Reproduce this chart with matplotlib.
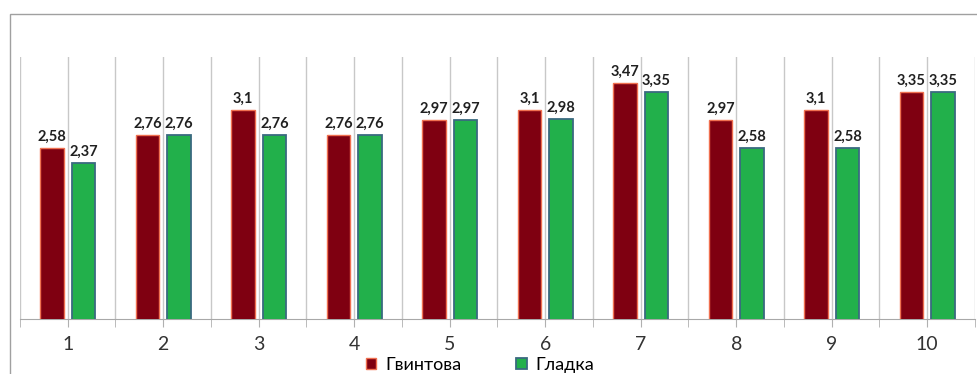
import numpy as np
import matplotlib
matplotlib.use("Agg")
import matplotlib.pyplot as plt
from matplotlib.patches import Rectangle

# Значення для двох типів поверхні
categories = ["1", "2", "3", "4", "5", "6", "7", "8", "9", "10"]
gvyntova = [2.58, 2.76, 3.1, 2.76, 2.97, 3.1, 3.47, 2.97, 3.1, 3.35]
gladka = [2.37, 2.76, 2.76, 2.76, 2.97, 2.98, 3.35, 2.58, 2.58, 3.35]
series_names = ["Гвинтова", "Гладка"]

plt.rcParams['font.family'] = ['Lato', 'DejaVu Sans']

fig = plt.figure(figsize=(9.78, 3.74), dpi=100)
fig.patches.append(Rectangle((10/978, -0.1), 1.1, (374-14)/374 + 0.1,
                             transform=fig.transFigure, fill=False,
                             edgecolor='#a0a0a0', linewidth=1.0))

ax = fig.add_axes([20/978, 55/374, 955/978, 262/374])
x = np.arange(1, len(categories) + 1)
w = 0.25
off = 0.165

b1 = ax.bar(x - off, gvyntova, w, color='#7f0011', edgecolor='#f07050',
            linewidth=1.0, label=series_names[0], zorder=3)
b2 = ax.bar(x + off, gladka, w, color='#22b04b', edgecolor='#3a6a80',
            linewidth=1.3, label=series_names[1], zorder=3)

def fmt(v):
    return ("%g" % v).replace(".", ",")

for bars, vals in ((b1, gvyntova), (b2, gladka)):
    for r, v in zip(bars, vals):
        ax.annotate(fmt(v), (r.get_x() + r.get_width() / 2, v),
                    xytext=(0, 3), textcoords='offset points',
                    ha='center', va='bottom', fontsize=10.5,
                    fontweight='bold', color='#202020')

ax.set_xlim(0.5, len(categories) + 0.5)
ax.set_ylim(0.225, 3.83)
ax.set_xticks(x)
ax.set_xticklabels(categories, fontsize=14, color='#333333')
ax.set_xticks(np.arange(0.5, len(categories) + 1), minor=True)
ax.tick_params(axis='x', which='both', length=6, color='#b0b0b0', pad=6)
ax.set_yticks([])
ax.grid(axis='x', which='both', color='#c8c8c8', linewidth=1.0, zorder=0)
for s in ('top', 'right', 'left'):
    ax.spines[s].set_visible(False)
ax.spines['bottom'].set_color('#a8a8a8')

fig.legend(handles=[b1, b2], labels=series_names, loc='center',
           bbox_to_anchor=(480/978, 9/374), ncol=2, frameon=False,
           fontsize=13, handlelength=0.6, handleheight=0.6,
           handletextpad=0.5, columnspacing=3.0, borderpad=0)

fig.savefig("out.png", dpi=100)
